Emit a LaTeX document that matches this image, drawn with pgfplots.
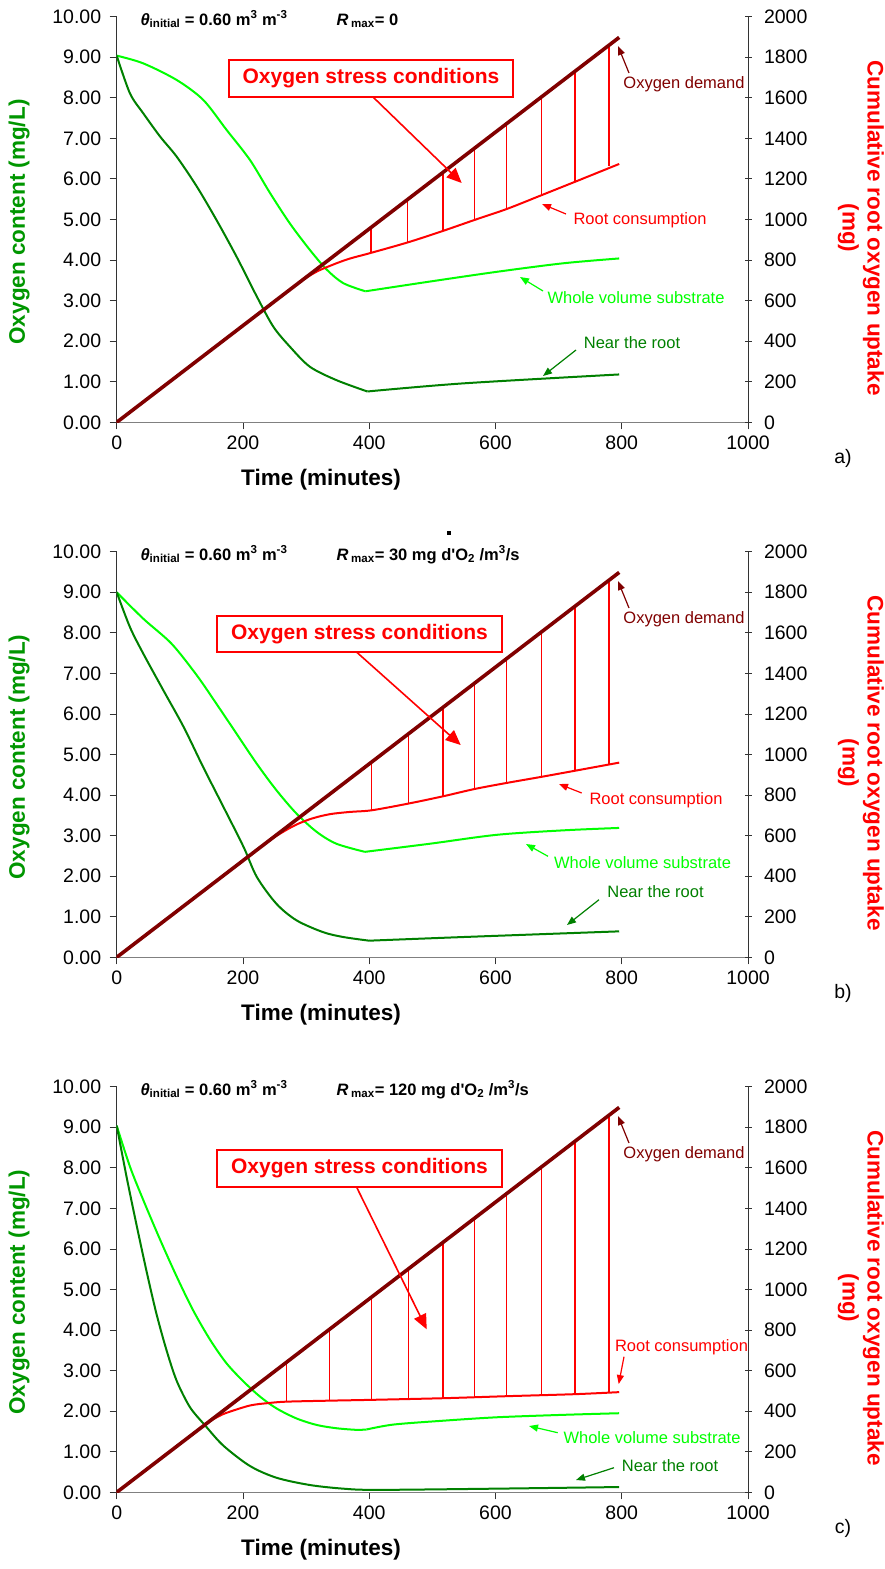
\documentclass[border=0pt]{standalone}
\usepackage{fontspec}
\setmainfont{Liberation Sans}
\usepackage{pgfplots}
\pgfplotsset{compat=1.18}
\usetikzlibrary{arrows.meta}

\definecolor{lgreen}{RGB}{0,255,0}
\definecolor{dgreen}{RGB}{0,128,0}
\definecolor{labgreen}{RGB}{0,150,0}
\definecolor{demand}{RGB}{128,0,0}
\definecolor{xred}{RGB}{255,0,0}
\definecolor{axgray}{RGB}{128,128,128}

\newcommand\fs[2]{\fontsize{#1}{#2}\selectfont}

\pgfplotsset{
  panel/.style={
    scale only axis, width=631.3pt, height=405.6pt,
    xmin=0, xmax=1000, anchor=south west,
    /pgf/number format/assume math mode=true,
    /pgf/number format/1000 sep={},
    tick label style={font=\fs{19.5}{20}},
    major tick length=7pt,
    tick style={black!80, line width=0.9pt},
  },
  leftax/.style={panel,
    ymin=0, ymax=10,
    axis x line*=bottom, axis y line*=left,
    x axis line style={axgray, line width=1.6pt},
    y axis line style={black!80, line width=1pt},
    xtick={0,200,...,1000}, ytick={0,1,...,10},
    tick align=outside,
    xticklabel style={yshift=-3pt},
    yticklabel style={xshift=-5pt, /pgf/number format/.cd, fixed, fixed zerofill, precision=2},
  },
  rightax/.style={panel,
    ymin=0, ymax=2000,
    axis y line*=right, axis x line=none,
    ytick={0,200,...,2000}, tick align=center,
    scaled y ticks=false,
    yticklabel style={xshift=9pt, /pgf/number format/.cd, fixed},
    y axis line style={black!80, line width=1pt},
  },
  wvs/.style={lgreen, line width=2pt, smooth, tension=0.5},
  ntr/.style={dgreen, line width=2pt, smooth, tension=0.5},
  rcons/.style={xred, line width=2pt, smooth, tension=0.5},
  dem/.style={demand, line width=3.6pt},
  gaps/.style={xred, line width=1.3pt, unbounded coords=jump},
}

% labels and arrows of one panel, in pixels of the reference, y downward
\newcommand\panelnotes[1]{%
  \node[font=\fs{16.5}{18}\bfseries, anchor=base west] at (137,25)
    {\textit{θ}\textsubscript{initial} = 0.60 m\textsuperscript{3} m\textsuperscript{-3}};
  \node[font=\fs{16.5}{18}\bfseries, anchor=base west] at (333,25)
    {\textit{R}\,\textsubscript{max}= #1};
  \node[rotate=90, font=\fs{22.5}{25}\bfseries, text=labgreen] at (19,222) {Oxygen content (mg/L)};
  \node[rotate=-90, align=center, font=\fs{22.5}{25}\bfseries, text=xred] at (861,228)
    {Cumulative root oxygen uptake\\(mg)};
  \node[font=\fs{22.5}{25}\bfseries] at (321,480) {Time (minutes)};
  \node[font=\fs{16.5}{18}, text=demand] at (684,84.5) {Oxygen demand};
  \draw[demand, line width=1.2pt, -{Triangle[length=9pt,width=7pt]}] (629,73) -- (618,46);
}

\begin{document}
\begin{tikzpicture}

% ---------------- a) ----------------
\begin{axis}[leftax, at={(116.7pt,-422.3pt)}]
  \addplot[wvs] coordinates {(0,9.04)(42,8.85)(95,8.44)(137,7.95)(174,7.21)(211,6.47)(243,5.65)(274,4.91)(306,4.25)(333,3.76)(359,3.43)(394,3.23)};
  \addplot[wvs] coordinates {(394,3.23)(496,3.47)(602,3.71)(707,3.92)(796,4.04)};
  \addplot[ntr] coordinates {(0,9.04)(21,8.11)(42,7.62)(69,7.04)(95,6.55)(127,5.81)(158,4.99)(190,4.08)(222,3.10)(248,2.36)(274,1.87)(306,1.37)(348,1.04)(397,0.76)};
  \addplot[ntr] coordinates {(397,0.76)(549,0.96)(796,1.18)};
\end{axis}
\begin{axis}[rightax, at={(116.7pt,-422.3pt)}]
  \addplot[gaps] coordinates {(403,836)(403,961)(430,nan)(461,887)(461,1099)(490,nan)(517,944)(517,1233)(540,nan)(567,998)(567,1352)(590,nan)(618,1052)(618,1474)(640,nan)(673,1120)(673,1605)(700,nan)(726,1186)(726,1731)(750,nan)(780,1262)(780,1860)};
  \addplot[rcons] coordinates {(0,0)(140,334)(280,668)(300,712)(320,748)(348,784)(370,808)(401,834)(462,888)(517,944)(567,998)(618,1052)(673,1120)(726,1186)(796,1274)};
  \addplot[dem] coordinates {(0,0)(796,1898)};
\end{axis}

% ---------------- b) ----------------
\begin{axis}[leftax, at={(116.7pt,-957.3pt)}]
  \addplot[wvs] coordinates {(0,9.0)(42,8.35)(87,7.73)(127,6.95)(158,6.25)(190,5.51)(222,4.77)(253,4.12)(285,3.54)(317,3.09)(348,2.80)(393,2.60)};
  \addplot[wvs] coordinates {(393,2.60)(496,2.80)(602,3.02)(707,3.13)(796,3.19)};
  \addplot[ntr] coordinates {(0,9.0)(21,8.14)(42,7.49)(74,6.58)(106,5.68)(137,4.69)(169,3.71)(201,2.72)(222,1.98)(253,1.32)(285,0.91)(327,0.62)(359,0.50)(400,0.41)};
  \addplot[ntr] coordinates {(400,0.41)(549,0.50)(796,0.64)};
\end{axis}
\begin{axis}[rightax, at={(116.7pt,-957.3pt)}]
  \addplot[gaps] coordinates {(404,725)(404,964)(430,nan)(462,758)(462,1102)(490,nan)(517,794)(517,1233)(540,nan)(567,830)(567,1352)(590,nan)(618,860)(618,1474)(640,nan)(673,890)(673,1605)(700,nan)(726,920)(726,1731)(750,nan)(780,951)(780,1860)};
  \addplot[rcons] coordinates {(0,0)(116,277)(232,553)(260,612)(285,655)(310,685)(338,706)(370,717)(404,725)(462,758)(517,794)(567,830)(618,860)(673,890)(726,920)(796,960)};
  \addplot[dem] coordinates {(0,0)(796,1898)};
\end{axis}

% ---------------- c) ----------------
\begin{axis}[leftax, at={(116.7pt,-1492.3pt)}]
  \addplot[wvs] coordinates {(0,9.04)(21,8.03)(42,7.21)(69,6.22)(95,5.32)(121,4.49)(148,3.76)(174,3.18)(201,2.73)(227,2.36)(253,2.07)(285,1.82)(317,1.66)(348,1.58)(380,1.54)(396,1.55)};
  \addplot[wvs] coordinates {(396,1.55)(438,1.67)(512,1.76)(602,1.85)(707,1.91)(796,1.95)};
  \addplot[ntr] coordinates {(0,9.04)(16,7.75)(32,6.55)(48,5.40)(63,4.40)(79,3.50)(95,2.75)(116,2.10)(140,1.65)(169,1.15)(211,0.65)(253,0.36)(306,0.18)(359,0.09)(412,0.06)(600,0.09)(796,0.13)};
\end{axis}
\begin{axis}[rightax, at={(116.7pt,-1492.3pt)}]
  \addplot[gaps] coordinates {(269,447)(269,642)(300,nan)(337,452)(337,804)(370,nan)(404,456)(404,964)(430,nan)(462,460)(462,1102)(490,nan)(517,464)(517,1233)(540,nan)(567,469)(567,1352)(590,nan)(618,474)(618,1474)(640,nan)(673,479)(673,1605)(700,nan)(726,484)(726,1731)(750,nan)(780,490)(780,1860)};
  \addplot[rcons] coordinates {(0,0)(70,167)(140,334)(160,372)(174,392)(211,428)(240,440)(269,447)(338,452)(404,456)(517,464)(618,474)(726,484)(796,494)};
  \addplot[dem] coordinates {(0,0)(796,1898)};
\end{axis}

% ---------------- annotations ----------------
\begin{scope}[x=1pt, y=-1pt]
  \panelnotes{0}
  \node[font=\fs{19.5}{20}] at (843,458) {a)};
  \draw[xred, line width=2.6pt, fill=white] (229,60) rectangle (513,97);
  \node[font=\fs{21}{24}\bfseries, text=xred] at (371,78.5) {Oxygen stress conditions};
  \draw[xred, line width=1.6pt, -{Triangle[length=15pt,width=13pt]}] (373,97) -- (461.7,183);
  \node[font=\fs{16.5}{18}, text=xred] at (640,220.5) {Root consumption};
  \draw[xred, line width=1.2pt, -{Triangle[length=9pt,width=7pt]}] (566,214) -- (542,204);
  \node[font=\fs{16.5}{18}, text=lgreen] at (636,297.5) {Whole volume substrate};
  \draw[lgreen, line width=1.2pt, -{Triangle[length=9pt,width=7pt]}] (543,291) -- (520,277);
  \node[font=\fs{16.5}{18}, text=dgreen] at (632,342.5) {Near the root};
  \draw[dgreen, line width=1.2pt, -{Triangle[length=9pt,width=7pt]}] (576,350) -- (543,376);
  \fill[black] (447,531) rectangle (451,535);
\end{scope}
\begin{scope}[x=1pt, y=-1pt, yshift=-535pt]
  \panelnotes{30 mg d\textquotesingle O\textsubscript{2} /m\textsuperscript{3}/s}
  \node[font=\fs{19.5}{20}] at (843,458) {b)};
  \draw[xred, line width=2.6pt, fill=white] (217,81) rectangle (502,117);
  \node[font=\fs{21}{24}\bfseries, text=xred] at (359.5,99) {Oxygen stress conditions};
  \draw[xred, line width=1.6pt, -{Triangle[length=15pt,width=13pt]}] (356.5,117) -- (460.7,210);
  \node[font=\fs{16.5}{18}, text=xred] at (656,265) {Root consumption};
  \draw[xred, line width=1.2pt, -{Triangle[length=9pt,width=7pt]}] (581.7,258) -- (559,249);
  \node[font=\fs{16.5}{18}, text=lgreen] at (642.5,328) {Whole volume substrate};
  \draw[lgreen, line width=1.2pt, -{Triangle[length=9pt,width=7pt]}] (548,321.3) -- (526,309);
  \node[font=\fs{16.5}{18}, text=dgreen] at (655.5,356.5) {Near the root};
  \draw[dgreen, line width=1.2pt, -{Triangle[length=9pt,width=7pt]}] (599,364.7) -- (567,390);
\end{scope}
\begin{scope}[x=1pt, y=-1pt, yshift=-1070pt]
  \panelnotes{120 mg d\textquotesingle O\textsubscript{2} /m\textsuperscript{3}/s}
  \node[font=\fs{19.5}{20}] at (843,458) {c)};
  \draw[xred, line width=2.6pt, fill=white] (217,80) rectangle (502,117);
  \node[font=\fs{21}{24}\bfseries, text=xred] at (359.5,98.5) {Oxygen stress conditions};
  \draw[xred, line width=1.6pt, -{Triangle[length=15pt,width=13pt]}] (356.7,117.3) -- (426.7,259.3);
  \node[font=\fs{16.5}{18}, text=xred] at (681.5,277.5) {Root consumption};
  \draw[xred, line width=1.2pt, -{Triangle[length=9pt,width=7pt]}] (624,286.7) -- (618.7,314);
  \node[font=\fs{16.5}{18}, text=lgreen] at (652,367.5) {Whole volume substrate};
  \draw[lgreen, line width=1.2pt, -{Triangle[length=9pt,width=7pt]}] (557.7,362.7) -- (529,356);
  \node[font=\fs{16.5}{18}, text=dgreen] at (670,395.5) {Near the root};
  \draw[dgreen, line width=1.2pt, -{Triangle[length=9pt,width=7pt]}] (614,397.7) -- (576,410);
\end{scope}

\pgfresetboundingbox
\path[use as bounding box] (0,0) rectangle (885pt,-1569pt);
\end{tikzpicture}
\end{document}
